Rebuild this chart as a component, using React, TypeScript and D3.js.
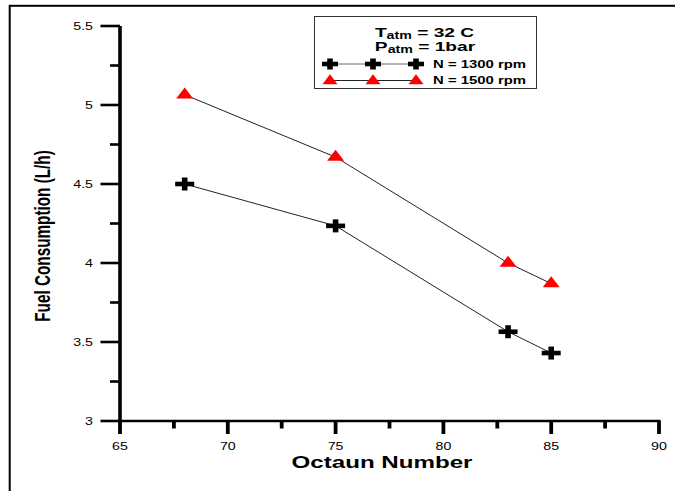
import React from "react";
import * as d3 from "d3";

const octane = [68, 75, 83, 85];
const fc1300 = [4.5, 4.235, 3.565, 3.43];
const fc1500 = [5.065, 4.67, 4.0, 3.87];
const xTicks = [65, 70, 75, 80, 85, 90];
const xMinor = [67.5, 72.5, 77.5, 82.5, 87.5];
const yTicks = [3, 3.5, 4, 4.5, 5, 5.5];
const yMinor = [3.25, 3.75, 4.25, 4.75, 5.25];
const legendLabels = ["N = 1300 rpm", "N = 1500 rpm"];

const W = 675;
const H = 491;
const SX = 1.42; // horizontal stretch of the original picture
const FONT = "'Liberation Sans', Arial, Helvetica, sans-serif";

const x = d3.scaleLinear().domain([65, 90]).range([120, 659]);
const y = d3.scaleLinear().domain([3, 5.5]).range([421, 26]);

const line = d3
  .line<[number, number]>()
  .x((d) => x(d[0]))
  .y((d) => y(d[1]));

function Plus({ cx, cy, w = 19, h = 13 }: { cx: number; cy: number; w?: number; h?: number }) {
  const t1 = 4.6;
  const t2 = 5.6;
  return (
    <g fill="#000">
      <rect x={cx - w / 2} y={cy - t1 / 2} width={w} height={t1} />
      <rect x={cx - t2 / 2} y={cy - h / 2} width={t2} height={h} />
    </g>
  );
}

function Tri({ cx, cy, w = 17, h = 11 }: { cx: number; cy: number; w?: number; h?: number }) {
  const p = `M${cx - w / 2},${cy + h / 3}L${cx + w / 2},${cy + h / 3}L${cx},${cy - (2 * h) / 3}Z`;
  return <path d={p} fill="#ff0000" />;
}

function SText({
  x0,
  y0,
  size,
  anchor = "middle",
  weight = "normal",
  children,
}: {
  x0: number;
  y0: number;
  size: number;
  anchor?: string;
  weight?: string;
  children: React.ReactNode;
}) {
  return (
    <text
      transform={`translate(${x0},${y0}) scale(${SX},1)`}
      fontSize={size}
      fontFamily={FONT}
      fontWeight={weight}
      textAnchor={anchor as any}
      fill="#000"
    >
      {children}
    </text>
  );
}

export default function App() {
  const s1 = octane.map((o, i) => [o, fc1300[i]] as [number, number]);
  const s2 = octane.map((o, i) => [o, fc1500[i]] as [number, number]);
  const legendXs = [330, 373, 416];
  return (
    <svg
      width={W}
      height={H}
      style={{ position: "absolute", left: 0, top: 0, background: "#fff" }}
    >
      <rect x={0} y={0} width={W} height={H} fill="#fff" />
      {/* outer frame */}
      <rect x={9.7} y={5.8} width={700} height={520} fill="none" stroke="#000" strokeWidth={2} />

      {/* axes */}
      <line x1={120} x2={120} y1={y(5.5)} y2={y(3) + 1.2} stroke="#000" strokeWidth={3.6} />
      <line x1={118} x2={x(90) + 1.5} y1={y(3)} y2={y(3)} stroke="#000" strokeWidth={2.6} />

      {yTicks.map((t) => (
        <g key={"yt" + t}>
          <line x1={100.5} x2={120} y1={y(t)} y2={y(t)} stroke="#000" strokeWidth={2.6} />
          <SText x0={93} y0={y(t) + 4} size={10} anchor="end">
            {String(t)}
          </SText>
        </g>
      ))}
      {yMinor.map((t) => (
        <line key={"ym" + t} x1={110} x2={120} y1={y(t)} y2={y(t)} stroke="#000" strokeWidth={2.6} />
      ))}
      {xTicks.map((t) => (
        <g key={"xt" + t}>
          <line x1={x(t)} x2={x(t)} y1={y(3)} y2={434} stroke="#000" strokeWidth={3.8} />
          <SText x0={x(t)} y0={450} size={10}>
            {String(t)}
          </SText>
        </g>
      ))}
      {xMinor.map((t) => (
        <line key={"xm" + t} x1={x(t)} x2={x(t)} y1={y(3)} y2={428.5} stroke="#000" strokeWidth={3.8} />
      ))}

      {/* axis titles */}
      <SText x0={382} y0={468} size={17} weight="bold">
        Octaun Number
      </SText>
      <text
        transform={`translate(50,236) scale(${SX},1) rotate(-90)`}
        fontSize={15.3}
        fontFamily={FONT}
        fontWeight="bold"
        textAnchor="middle"
        fill="#000"
      >
        Fuel Consumption (L/h)
      </text>

      {/* series */}
      <path d={line(s1) || ""} fill="none" stroke="#222" strokeWidth={1} />
      <path d={line(s2) || ""} fill="none" stroke="#222" strokeWidth={1} />
      {s1.map((d, i) => (
        <Plus key={"p" + i} cx={x(d[0])} cy={y(d[1])} />
      ))}
      {s2.map((d, i) => (
        <Tri key={"t" + i} cx={x(d[0])} cy={y(d[1])} />
      ))}

      {/* legend */}
      <rect x={314.5} y={16.5} width={222} height={72} fill="#fff" stroke="#333" strokeWidth={1} />
      <text
        transform={`translate(424.5,36.7) scale(${SX},1)`}
        fontFamily={FONT}
        fontWeight="bold"
        textAnchor="middle"
        fontSize={13.5}
      >
        T<tspan fontSize={10} dy={2}>atm</tspan>
        <tspan dy={-2}> = 32 C</tspan>
      </text>
      <text
        transform={`translate(425,50.7) scale(${SX},1)`}
        fontFamily={FONT}
        fontWeight="bold"
        textAnchor="middle"
        fontSize={13.5}
      >
        P<tspan fontSize={10} dy={2}>atm</tspan>
        <tspan dy={-2}> = 1bar</tspan>
      </text>
      <line x1={330} x2={416} y1={64} y2={64} stroke="#666" strokeWidth={1} />
      {legendXs.map((lx) => (
        <Plus key={"lp" + lx} cx={lx} cy={64} w={16} h={11} />
      ))}
      <line x1={330} x2={416} y1={80.5} y2={80.5} stroke="#222" strokeWidth={1} />
      {legendXs.map((lx) => (
        <Tri key={"lt" + lx} cx={lx} cy={81} w={15} h={10} />
      ))}
      <SText x0={433} y0={67.5} size={10.5} anchor="start" weight="bold">
        {legendLabels[0]}
      </SText>
      <SText x0={433} y0={84.3} size={10.5} anchor="start" weight="bold">
        {legendLabels[1]}
      </SText>
    </svg>
  );
}
